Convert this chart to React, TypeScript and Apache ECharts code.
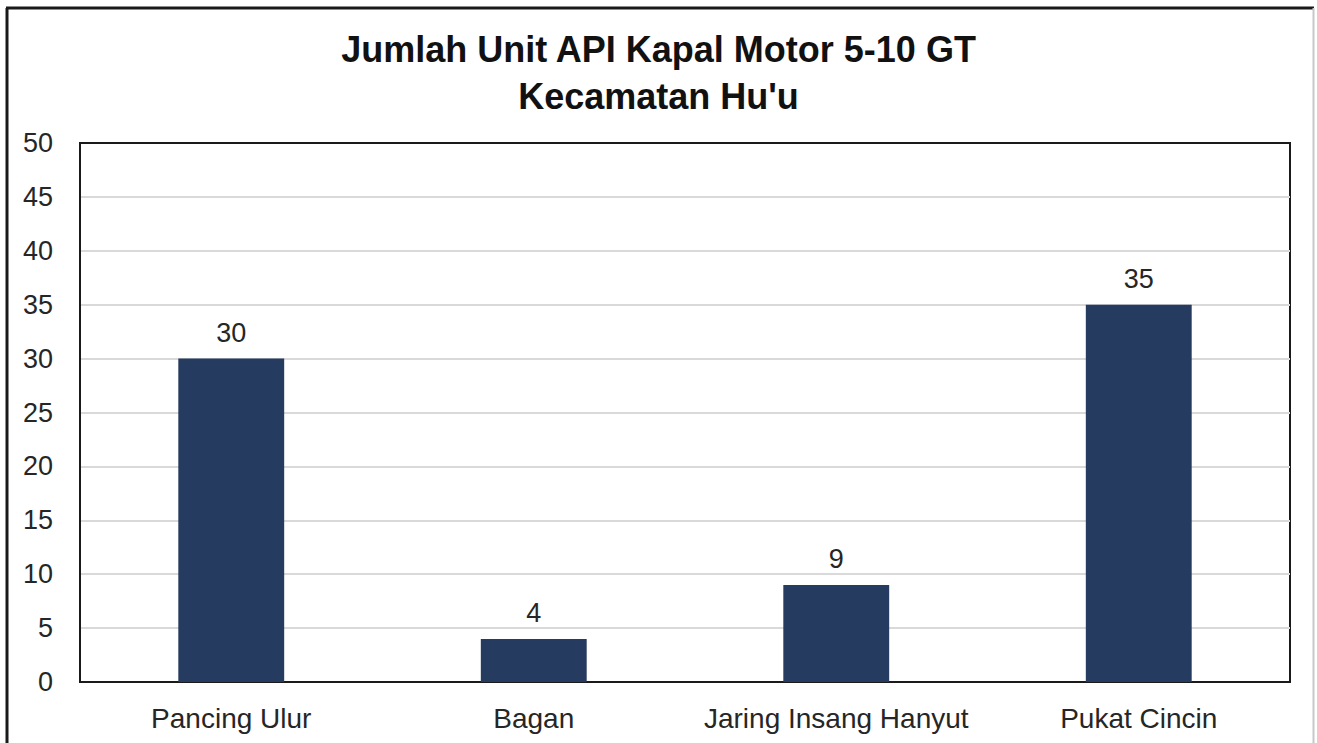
import React, { useEffect, useRef } from "react";
import * as echarts from "echarts";

const categories = ["Pancing Ulur", "Bagan", "Jaring Insang Hanyut", "Pukat Cincin"];
const values = [30, 4, 9, 35];
const titleLines = ["Jumlah Unit API Kapal Motor 5-10 GT", "Kecamatan Hu'u"];
const yMin = 0;
const yMax = 50;
const yStep = 5;

const FONT = "'Liberation Sans', Arial, sans-serif";

export default function App() {
  const ref = useRef<HTMLDivElement>(null);
  useEffect(() => {
    if (!ref.current) return;
    const chart = echarts.init(ref.current, undefined, { renderer: "svg" });
    const titleTops = [26, 73];
    chart.setOption({
      animation: false,
      backgroundColor: "#ffffff",
      title: titleLines.map((t, i) => ({
        text: t,
        left: "center",
        top: titleTops[i],
        textStyle: {
          fontFamily: FONT,
          fontSize: 36,
          fontWeight: "bold",
          color: "#111111",
          lineHeight: 36,
        },
      })),
      grid: {
        left: 80,
        right: 27,
        top: 143,
        bottom: 61,
        show: true,
        borderColor: "#1a1a1a",
        borderWidth: 2,
        backgroundColor: "transparent",
      },
      xAxis: {
        type: "category",
        data: categories,
        axisLine: { show: true, lineStyle: { color: "#1a1a1a", width: 2 } },
        axisTick: { show: false },
        axisLabel: {
          fontFamily: FONT,
          fontSize: 28,
          color: "#262626",
          margin: 22,
          interval: 0,
        },
      },
      yAxis: {
        type: "value",
        min: yMin,
        max: yMax,
        interval: yStep,
        axisLine: { show: true, lineStyle: { color: "#1a1a1a", width: 2 } },
        axisTick: { show: false },
        axisLabel: {
          fontFamily: FONT,
          fontSize: 27,
          color: "#262626",
          margin: 27,
        },
        splitLine: {
          show: true,
          showMinLine: false,
          showMaxLine: false,
          lineStyle: { color: "#d9d9d9", width: 2 },
        },
      },
      series: [
        {
          type: "bar",
          data: values,
          barWidth: "35%",
          itemStyle: { color: "#253b5f" },
          label: {
            show: true,
            position: "top",
            distance: 12,
            fontFamily: FONT,
            fontSize: 27,
            color: "#262626",
          },
        },
      ],
      graphic: [
        {
          type: "line",
          shape: { x1: 7, y1: 8, x2: 7, y2: 743 },
          style: { stroke: "#1a1a1a", lineWidth: 3 },
        },
        {
          type: "line",
          shape: { x1: 6, y1: 8, x2: 1314, y2: 8 },
          style: { stroke: "#1a1a1a", lineWidth: 3 },
        },
        {
          type: "line",
          shape: { x1: 1313.5, y1: 8, x2: 1313.5, y2: 743 },
          style: { stroke: "#c8c8c8", lineWidth: 2 },
        },
      ],
    });
    return () => chart.dispose();
  }, []);
  return (
    <div
      ref={ref}
      style={{ position: "absolute", left: 0, top: 0, width: 1317, height: 743 }}
    />
  );
}
